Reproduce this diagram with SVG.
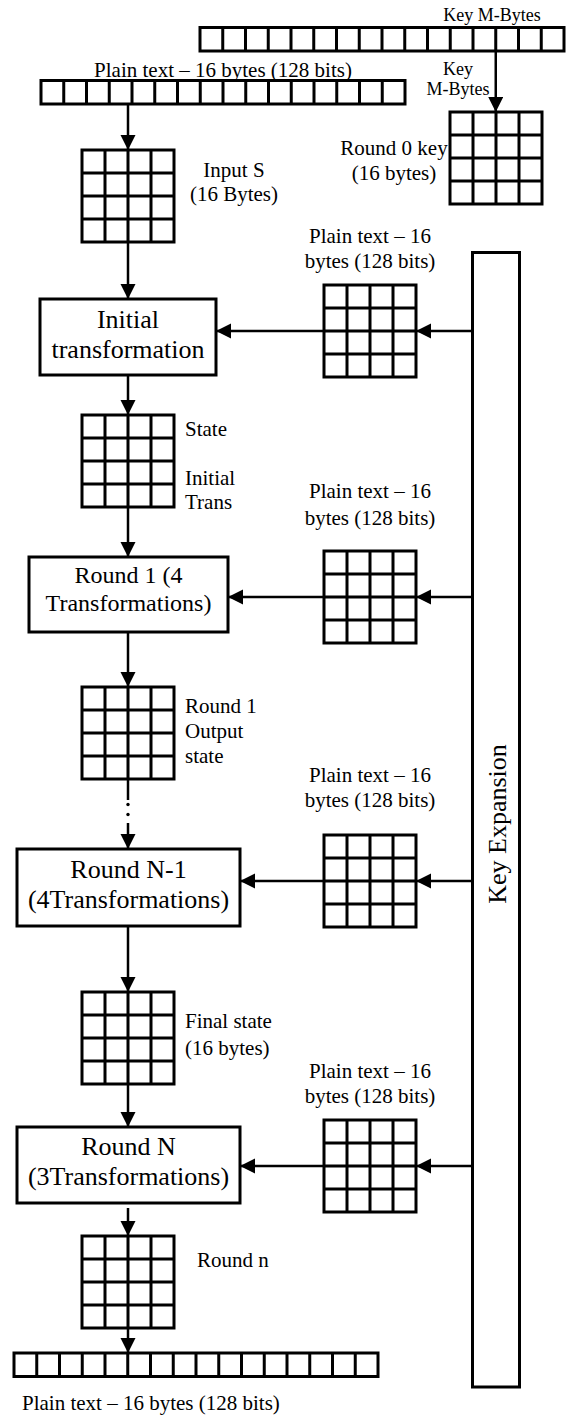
<svg xmlns="http://www.w3.org/2000/svg" xmlns:xlink="http://www.w3.org/1999/xlink" width="571" height="1416" viewBox="0 0 571 1416">
  <style>
    text { font-family: "Liberation Serif", "Times New Roman", serif; fill: #000; }
    .lbl { font-size: 21px; }
    .sm { font-size: 18px; }
    .b26 { font-size: 26px; text-anchor: middle; }
    .b24 { font-size: 24px; text-anchor: middle; }
    .mid { text-anchor: middle; }
    .cell { fill: #fff; stroke: #000; stroke-width: 3; }
    .box { fill: #fff; stroke: #000; stroke-width: 3; }
    .conn { fill: none; stroke: #000; stroke-width: 2.5; }
  </style>
  <defs>
    <marker id="arrow" markerUnits="userSpaceOnUse" markerWidth="16" markerHeight="16" refX="15" refY="7.5" orient="auto">
      <path d="M0,0 L15,7.5 L0,15 Z" fill="#000"/>
    </marker>
    <!-- 4x4 byte matrix, 23px cells -->
    <g id="grid4">
      <rect class="cell" x="0" y="0" width="92" height="92"/>
      <path class="cell" d="M23,0V92M46,0V92M69,0V92M0,23H92M0,46H92M0,69H92"/>
    </g>
    <!-- row of 16 byte cells -->
    <g id="strip16">
      <rect class="cell" x="0" y="0" width="364" height="23.5"/>
      <path class="cell" d="M22.75,0v23.5M45.5,0v23.5M68.25,0v23.5M91,0v23.5M113.75,0v23.5M136.5,0v23.5M159.25,0v23.5M182,0v23.5M204.75,0v23.5M227.5,0v23.5M250.25,0v23.5M273,0v23.5M295.75,0v23.5M318.5,0v23.5M341.25,0v23.5"/>
    </g>
  </defs>

  <!-- connectors -->
  <g id="connectors" class="conn">
    <path d="M495.75,50.5V112" marker-end="url(#arrow)"/>
    <path d="M128,104V150" marker-end="url(#arrow)"/>
    <path d="M128,242V299" marker-end="url(#arrow)"/>
    <path d="M128,375V415" marker-end="url(#arrow)"/>
    <path d="M128,507V557" marker-end="url(#arrow)"/>
    <path d="M128,632V687" marker-end="url(#arrow)"/>
    <path d="M128,779V800"/>
    <circle cx="128" cy="804.5" r="1.7" fill="#000" stroke="none"/>
    <circle cx="128" cy="814.5" r="1.7" fill="#000" stroke="none"/>
    <path d="M128,823V849" marker-end="url(#arrow)"/>
    <path d="M128,926V992" marker-end="url(#arrow)"/>
    <path d="M128,1084V1127" marker-end="url(#arrow)"/>
    <path d="M128,1208V1236" marker-end="url(#arrow)"/>
    <path d="M128,1328V1353" marker-end="url(#arrow)"/>
    <!-- round keys from key expansion -->
    <path d="M472,331H416" marker-end="url(#arrow)"/>
    <path d="M472,597H416" marker-end="url(#arrow)"/>
    <path d="M472,881H416" marker-end="url(#arrow)"/>
    <path d="M472,1166H416" marker-end="url(#arrow)"/>
    <path d="M324,331H216" marker-end="url(#arrow)"/>
    <path d="M324,597H228" marker-end="url(#arrow)"/>
    <path d="M324,881H240" marker-end="url(#arrow)"/>
    <path d="M324,1166H240" marker-end="url(#arrow)"/>
  </g>

  <!-- cipher key -->
  <g id="key-bytes">
    <text class="sm mid" x="492" y="21">Key M-Bytes</text>
    <use xlink:href="#strip16" x="200" y="27.5"/>
  </g>
  <text class="sm mid" x="458" y="75">Key</text>
  <text class="sm mid" x="458" y="95">M-Bytes</text>
  <g id="round0-key">
    <use xlink:href="#grid4" x="450" y="112"/>
    <text class="lbl mid" x="394" y="155">Round 0 key</text>
    <text class="lbl mid" x="394" y="180">(16 bytes)</text>
  </g>

  <!-- plain text input -->
  <g id="plain-in">
    <text class="lbl mid" x="223" y="77">Plain text – 16 bytes (128 bits)</text>
    <use xlink:href="#strip16" x="41" y="80.5"/>
  </g>
  <g id="input-s">
    <use xlink:href="#grid4" x="82" y="150"/>
    <text class="lbl mid" x="234" y="177">Input S</text>
    <text class="lbl mid" x="234" y="201">(16 Bytes)</text>
  </g>

  <g id="initial-transform">
    <rect class="box" x="40" y="299" width="176" height="76"/>
    <text class="b26" x="128" y="328">Initial</text>
    <text class="b26" x="128" y="358">transformation</text>
  </g>
  <g id="state">
    <use xlink:href="#grid4" x="82" y="415"/>
    <text class="lbl" x="185" y="436">State</text>
    <text class="lbl" x="185" y="485">Initial</text>
    <text class="lbl" x="185" y="509">Trans</text>
  </g>

  <g id="round1">
    <rect class="box" x="29" y="557" width="199" height="75"/>
    <text class="b24" x="128.5" y="583">Round 1 (4</text>
    <text class="b24" x="128.5" y="611">Transformations)</text>
  </g>
  <g id="round1-out">
    <use xlink:href="#grid4" x="82" y="687"/>
    <text class="lbl" x="185" y="713">Round 1</text>
    <text class="lbl" x="185" y="738">Output</text>
    <text class="lbl" x="185" y="763">state</text>
  </g>

  <g id="round-n-1">
    <rect class="box" x="17" y="849" width="223" height="77"/>
    <text class="b26" x="128.5" y="878">Round N-1</text>
    <text class="b26" x="128.5" y="908">(4Transformations)</text>
  </g>
  <g id="final-state">
    <use xlink:href="#grid4" x="82" y="992"/>
    <text class="lbl" x="185" y="1028">Final state</text>
    <text class="lbl" x="185" y="1055">(16 bytes)</text>
  </g>

  <g id="round-n">
    <rect class="box" x="17" y="1127" width="223" height="76"/>
    <text class="b26" x="128.5" y="1155">Round N</text>
    <text class="b26" x="128.5" y="1185">(3Transformations)</text>
  </g>
  <g id="round-n-out">
    <use xlink:href="#grid4" x="82" y="1236"/>
    <text class="lbl" x="197" y="1267">Round n</text>
  </g>

  <g id="plain-out">
    <use xlink:href="#strip16" x="14" y="1353"/>
    <text class="lbl" x="22" y="1410">Plain text – 16 bytes (128 bits)</text>
  </g>

  <!-- round keys -->
  <g id="round-key-1">
    <text class="lbl mid" x="370" y="243">Plain text – 16</text>
    <text class="lbl mid" x="370" y="268">bytes (128 bits)</text>
    <use xlink:href="#grid4" x="324" y="285"/>
  </g>
  <g id="round-key-2">
    <text class="lbl mid" x="370" y="498">Plain text – 16</text>
    <text class="lbl mid" x="370" y="525">bytes (128 bits)</text>
    <use xlink:href="#grid4" x="324" y="551"/>
  </g>
  <g id="round-key-3">
    <text class="lbl mid" x="370" y="782">Plain text – 16</text>
    <text class="lbl mid" x="370" y="807">bytes (128 bits)</text>
    <use xlink:href="#grid4" x="324" y="835"/>
  </g>
  <g id="round-key-4">
    <text class="lbl mid" x="370" y="1078">Plain text – 16</text>
    <text class="lbl mid" x="370" y="1103">bytes (128 bits)</text>
    <use xlink:href="#grid4" x="324" y="1120"/>
  </g>

  <g id="key-expansion">
    <rect class="box" x="472.5" y="252.5" width="47" height="1134.5"/>
    <text class="mid" font-size="26" transform="translate(506,824) rotate(-90)">Key Expansion</text>
  </g>
</svg>
